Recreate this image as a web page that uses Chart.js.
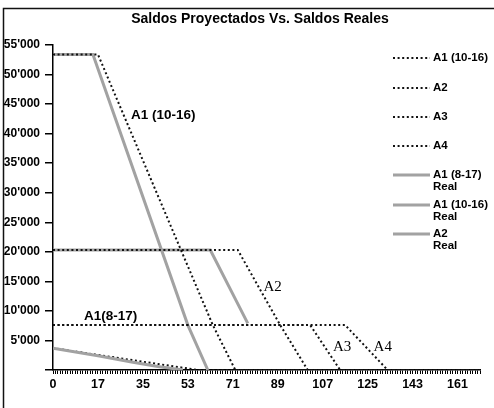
<!DOCTYPE html>
<html>
<head>
<meta charset="utf-8">
<script src="https://cdn.jsdelivr.net/npm/chart.js@4/dist/chart.umd.min.js"></script>
<style>
  html, body { margin: 0; padding: 0; background: #fff; }
  canvas { display: block; }
</style>
</head>
<body>
<canvas id="c" width="494" height="408"></canvas>
<script>
// ---------------- DATA ----------------
const TITLE = "Saldos Proyectados Vs. Saldos Reales";
// x axis: one category per day-index; a label every 18 indexes
const X_MAX = 171;
const xTickLabels = ["0", "17", "35", "53", "71", "89", "107", "125", "143", "161"];

// Projected balances (dotted)
const a1_1016_x = [0, 18, 64, 73, 171];
const a1_1016_y = [53400, 53400, 7600, 0, 0];
const a2_x = [0, 74, 91, 102, 171];
const a2_y = [20300, 20300, 7600, 0, 0];
const a3_x = [0, 103, 115, 171];
const a3_y = [7600, 7600, 0, 0];
const a4_x = [0, 117, 134, 171];
const a4_y = [7600, 7600, 0, 0];
const a1_817_x = [0, 58, 171];
const a1_817_y = [3700, 0, 0];

// Real balances (grey)
const a1_817_real_x = [0, 18, 32, 42, 52];
const a1_817_real_y = [3700, 2400, 1300, 600, 0];
const a1_1016_real_x = [0, 16, 54, 62];
const a1_1016_real_y = [53400, 53400, 7600, 0];
const a2_real_x = [0, 63, 78];
const a2_real_y = [20300, 20300, 7900];

// in-chart text labels: [text, x, y, font]
const notes = [
  ["A1 (10-16)", 31.2, 43100, "bold 13.5px 'Liberation Sans', Arial, sans-serif"],
  ["A1(8-17)", 12.4, 9100, "bold 13.5px 'Liberation Sans', Arial, sans-serif"],
  ["A2", 84.3, 14100, "15px 'Liberation Serif', 'Times New Roman', serif"],
  ["A3", 112.1, 3950, "15px 'Liberation Serif', 'Times New Roman', serif"],
  ["A4", 128.4, 3950, "15px 'Liberation Serif', 'Times New Roman', serif"]
];

// ---------------- BUILD ----------------
const pts = (xs, ys) => xs.map((x, i) => ({ x: x, y: ys[i] }));
const SANS = "'Liberation Sans', Arial, sans-serif";

function proj(label, xs, ys, inLegend) {
  return {
    label: label, data: pts(xs, ys), inLegend: inLegend, kind: 'proj',
    borderColor: '#111', borderWidth: 2, borderDash: [2, 2.6],
    borderCapStyle: 'butt', pointRadius: 0, fill: false, tension: 0
  };
}
function real(label, xs, ys) {
  return {
    label: label, data: pts(xs, ys), inLegend: true, kind: 'real',
    borderColor: '#a2a2a2', borderWidth: 3,
    pointRadius: 0, fill: false, tension: 0
  };
}

const datasets = [
  proj("A1 (10-16)", a1_1016_x, a1_1016_y, true),
  proj("A2", a2_x, a2_y, true),
  proj("A3", a3_x, a3_y, true),
  proj("A4", a4_x, a4_y, true),
  real("A1 (8-17)\nReal", a1_817_real_x, a1_817_real_y),
  real("A1 (10-16)\nReal", a1_1016_real_x, a1_1016_real_y),
  real("A2\nReal", a2_real_x, a2_real_y),
  proj("A1 (8-17)", a1_817_x, a1_817_y, false)
];

const decor = {
  id: 'decor',
  beforeDraw(chart) {
    const ctx = chart.ctx;
    ctx.save();
    ctx.fillStyle = '#fff';
    ctx.fillRect(0, 0, chart.width, chart.height);
    ctx.strokeStyle = '#111';
    ctx.lineWidth = 1.5;
    ctx.beginPath();
    ctx.moveTo(3.5, 408); ctx.lineTo(3.5, 8.5); ctx.lineTo(494, 8.5);
    ctx.stroke();
    ctx.restore();
  },
  afterDraw(chart) {
    const ctx = chart.ctx;
    const xs = chart.scales.x, ys = chart.scales.y;
    ctx.save();
    // title
    ctx.fillStyle = '#000';
    ctx.font = "bold 14px " + SANS;
    ctx.textAlign = 'center';
    ctx.textBaseline = 'middle';
    ctx.fillText(TITLE, 260, 19);
    // notes
    ctx.textAlign = 'left';
    notes.forEach(n => {
      ctx.font = n[3];
      ctx.fillText(n[0], xs.getPixelForValue(n[1]), ys.getPixelForValue(n[2]));
    });
    // legend
    let y = 58;
    const gaps = [30, 29, 29, 29, 30, 29, 29];
    let k = 0;
    chart.data.datasets.forEach(ds => {
      if (!ds.inLegend) return;
      ctx.save();
      ctx.strokeStyle = ds.borderColor;
      ctx.lineWidth = ds.borderWidth;
      ctx.setLineDash(ds.borderDash || []);
      ctx.beginPath();
      ctx.moveTo(393, y); ctx.lineTo(430, y);
      ctx.stroke();
      ctx.restore();
      ctx.font = "bold 11.5px " + SANS;
      ctx.fillStyle = '#000';
      ds.label.split('\n').forEach((t, i) => ctx.fillText(t, 433, y + i * 12));
      y += gaps[k++];
    });
    ctx.restore();
  }
};

new Chart(document.getElementById('c'), {
  type: 'line',
  data: { datasets: datasets },
  options: {
    responsive: false,
    animation: false,
    devicePixelRatio: 1,
    layout: { padding: { left: 0, right: 14, top: 45, bottom: 0 } },
    plugins: { legend: { display: false }, title: { display: false }, tooltip: { enabled: false } },
    scales: {
      x: {
        type: 'linear', min: 0, max: X_MAX,
        afterFit(s) { s.height = 38; },
        grid: { drawOnChartArea: false, drawTicks: true, tickLength: 4, color: '#000', lineWidth: 1 },
        border: { color: '#000', width: 1.5 },
        ticks: {
          stepSize: 1, autoSkip: false, maxRotation: 0, minRotation: 0, padding: 3,
          color: '#000', font: { family: SANS, size: 12.5, weight: 'bold' },
          callback: (v) => (v % 18 === 0 ? xTickLabels[v / 18] : '')
        }
      },
      y: {
        min: 0, max: 55000,
        afterFit(s) { s.width = 53; },
        grid: { drawOnChartArea: false, drawTicks: true, tickLength: 8, color: '#000', lineWidth: 1.5 },
        border: { color: '#000', width: 1.5 },
        ticks: {
          stepSize: 5000, padding: 5, color: '#000',
          font: { family: SANS, size: 12, weight: 'bold' },
          callback: (v) => (v === 0 ? '' : String(v).replace(/\B(?=(\d{3})+(?!\d))/g, "'"))
        }
      }
    }
  },
  plugins: [decor]
});
</script>
</body>
</html>
